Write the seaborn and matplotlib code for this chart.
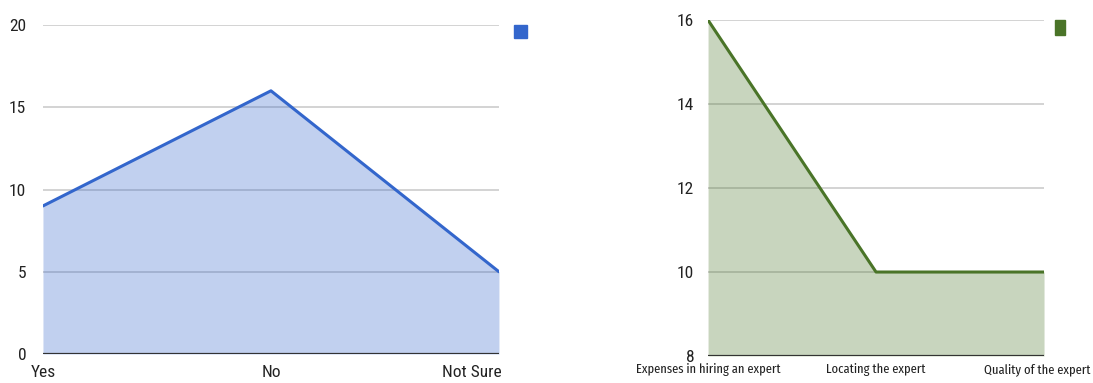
import matplotlib
matplotlib.use("Agg")
import matplotlib.pyplot as plt
import matplotlib.transforms as mtransforms
from matplotlib.patches import Patch
import seaborn as sns
import pandas as pd

# survey answers
answer_labels = ["Yes", "No", "Not Sure"]
answer_counts = [9, 16, 5]
answer_ticks = [0, 5, 10, 15, 20]

# difficulties in finding an expert
issue_labels = ["Expenses in hiring an expert", "Locating the expert", "Quality of the expert"]
issue_counts = [16, 10, 10]
issue_ticks = [8, 10, 12, 14, 16]

BLUE = "#3366cc"
GREEN = "#4a7428"

sns.set_theme(style="white")
plt.rcParams["font.family"] = ["Roboto Condensed", "DejaVu Sans"]

fig = plt.figure(figsize=(10.93, 3.83), dpi=100)
ax1 = fig.add_axes([0.0393, 0.0757, 0.4172, 0.859])
ax2 = fig.add_axes([0.6478, 0.0705, 0.3074, 0.877])


def area_panel(ax, labels, values, ticks, color, ypad, xpad, key_w, key_h):
    df = pd.DataFrame({"pos": range(len(labels)), "value": values})
    lo, hi = ticks[0], ticks[-1]
    for t in ticks[1:]:
        ax.axhline(t, color="#cccccc", lw=1.2, zorder=1)
    ax.fill_between(df["pos"], lo, df["value"], color=color, alpha=0.3, lw=0, zorder=2)
    sns.lineplot(data=df, x="pos", y="value", ax=ax, color=color, lw=2.2, zorder=3)
    ax.axhline(lo, color="#333333", lw=1.6, zorder=4)
    ax.set_xlim(0, len(labels) - 1)
    ax.set_ylim(lo, hi)
    ax.set_xticks(range(len(labels)))
    ax.set_xticklabels(labels)
    ax.set_yticks(ticks)
    ax.set_yticklabels([str(t) for t in ticks])
    ax.tick_params(axis="both", length=0, labelsize=12.5, colors="#222222")
    ax.tick_params(axis="y", pad=ypad)
    ax.tick_params(axis="x", pad=xpad)
    ax.set_xlabel("")
    ax.set_ylabel("")
    for s in ax.spines.values():
        s.set_visible(False)
    ax.legend(handles=[Patch(facecolor=color, edgecolor=color)], labels=[""],
              loc="upper left", bbox_to_anchor=(1.033, 1.0), frameon=False,
              prop={"size": 10}, handlelength=key_w, handleheight=key_h,
              borderpad=0, borderaxespad=0, handletextpad=0)


area_panel(ax1, answer_labels, answer_counts, answer_ticks, BLUE, 12, 8, 0.95, 1.1)
area_panel(ax2, issue_labels, issue_counts, issue_ticks, GREEN, 10, 5, 0.72, 1.22)

# the narrower chart uses tighter category labels
for lbl in ax2.get_xticklabels():
    lbl.set_fontfamily(["Fira Sans Extra Condensed", "DejaVu Sans"])
    lbl.set_fontsize(9.8)


def pull_in(lbl, dx_inch):
    # keep the end label inside the figure by right-aligning it
    lbl.set_horizontalalignment("right")
    lbl.set_transform(lbl.get_transform()
                      + mtransforms.ScaledTranslation(dx_inch, 0, fig.dpi_scale_trans))


pull_in(ax1.get_xticklabels()[-1], 0.03)
pull_in(ax2.get_xticklabels()[-1], 0.46)

fig.savefig("out.png", dpi=100)
